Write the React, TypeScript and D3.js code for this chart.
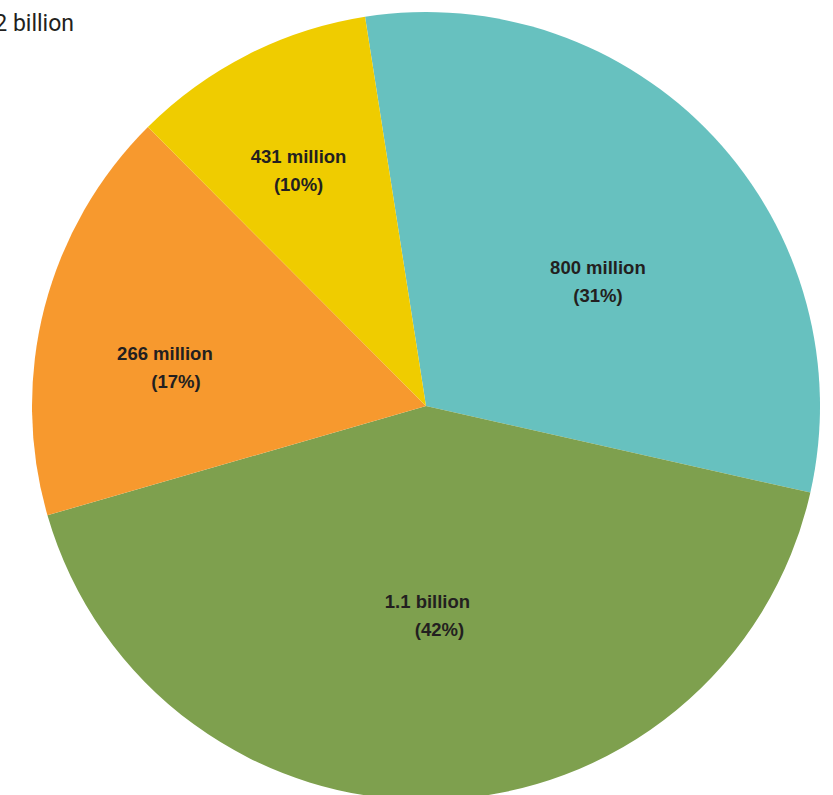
import React from "react";
import * as d3 from "d3";

const categories = ["Teal", "Green", "Orange", "Yellow"];
const shares = [31, 42, 17, 10];
const valueLabels = ["800 million", "1.1 billion", "266 million", "431 million"];
const pctLabels = ["(31%)", "(42%)", "(17%)", "(10%)"];
const colors = ["#67c1bf", "#7ea04e", "#f7992e", "#efcc00"];
const totalLabel = "2.2 billion";

// label layout (radius fraction, angular nudge in degrees, second-line x nudge)
const labelRadius = [0.54, 0.53, 0.67, 0.68];
const labelAngleNudge = [7, 1.3, -6, -1.5];
const pctNudge = [0, 12, 11, 0];

export default function App() {
  const W = 833, H = 795;
  const cx = 426, cy = 406, R = 394;
  const start = (-8.9 * Math.PI) / 180;
  const pie = d3
    .pie<number>()
    .sort(null)
    .startAngle(start)
    .endAngle(start + 2 * Math.PI)
    .value((d) => d);
  const arcs = pie(shares);
  const arc = d3.arc<d3.PieArcDatum<number>>().innerRadius(0).outerRadius(R);
  return (
    <svg
      width={W}
      height={H}
      style={{ position: "absolute", left: 0, top: 0, background: "#fff" }}
    >
      <text
        x={74}
        y={31}
        textAnchor="end"
        fontFamily="Roboto, 'Liberation Sans', Arial, sans-serif"
        fontSize={23}
        fill="#231f20"
      >
        {totalLabel}
      </text>
      <g transform={`translate(${cx},${cy})`}>
        {arcs.map((a, i) => (
          <path key={categories[i]} d={arc(a) || ""} fill={colors[i]} />
        ))}
        {arcs.map((a, i) => {
          const mid = (a.startAngle + a.endAngle) / 2 + (labelAngleNudge[i] * Math.PI) / 180;
          const r = labelRadius[i] * R;
          const x = Math.sin(mid) * r;
          const y = -Math.cos(mid) * r;
          return (
            <g
              key={"l" + i}
              fontFamily="'Liberation Sans', Arial, sans-serif"
              fontWeight="bold"
              fontSize={18.5}
              fill="#231f20"
              textAnchor="middle"
            >
              <text x={x} y={y - 7}>{valueLabels[i]}</text>
              <text x={x + pctNudge[i]} y={y + 21}>{pctLabels[i]}</text>
            </g>
          );
        })}
      </g>
    </svg>
  );
}
